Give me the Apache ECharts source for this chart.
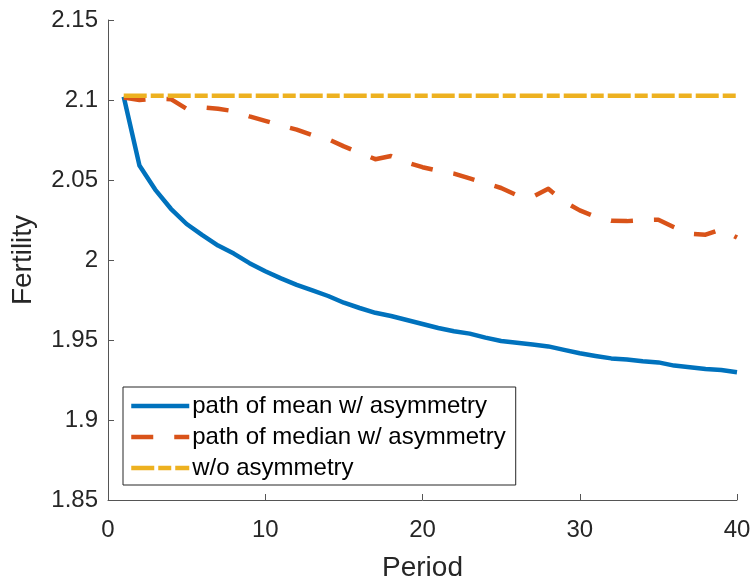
<!DOCTYPE html>
<html>
<head>
<meta charset="utf-8">
<script src="https://cdn.jsdelivr.net/npm/echarts@6/dist/echarts.min.js"></script>
<style>
  html, body { margin: 0; padding: 0; background: #fff; }
  #chart { width: 754px; height: 581px; }
</style>
</head>
<body>
<div id="chart"></div>
<script>
// periods on the x axis
var periods = [1, 2, 3, 4, 5, 6, 7, 8, 9, 10,
  11, 12, 13, 14, 15, 16, 17, 18, 19, 20,
  21, 22, 23, 24, 25, 26, 27, 28, 29, 30,
  31, 32, 33, 34, 35, 36, 37, 38, 39, 40];

// path of mean w/ asymmetry
var meanPath = [2.102, 2.059, 2.044, 2.032, 2.0225, 2.0155, 2.009, 2.004, 1.998, 1.993,
  1.9885, 1.9845, 1.981, 1.9775, 1.9733, 1.970, 1.967, 1.965, 1.9625, 1.960,
  1.9575, 1.9555, 1.954, 1.9515, 1.9494, 1.9483, 1.9472, 1.946, 1.9438, 1.9417,
  1.940, 1.9385, 1.9378, 1.9367, 1.936, 1.934, 1.933, 1.9319, 1.9312, 1.9298];

// path of median w/ asymmetry
var medianPath = [2.1015, 2.1, 2.1008, 2.1005, 2.0945, 2.0955, 2.0945, 2.093, 2.0898, 2.087,
  2.084, 2.0815, 2.078, 2.0755, 2.071, 2.067, 2.063, 2.065, 2.061, 2.058,
  2.0558, 2.054, 2.051, 2.048, 2.045, 2.0405, 2.0395, 2.0445, 2.0365, 2.031,
  2.027, 2.0245, 2.0243, 2.025, 2.0252, 2.0205, 2.0165, 2.0158, 2.0192, 2.014];

// w/o asymmetry
var noAsym = [2.1027, 2.1027, 2.1027, 2.1027, 2.1027, 2.1027, 2.1027, 2.1027, 2.1027, 2.1027,
  2.1027, 2.1027, 2.1027, 2.1027, 2.1027, 2.1027, 2.1027, 2.1027, 2.1027, 2.1027,
  2.1027, 2.1027, 2.1027, 2.1027, 2.1027, 2.1027, 2.1027, 2.1027, 2.1027, 2.1027,
  2.1027, 2.1027, 2.1027, 2.1027, 2.1027, 2.1027, 2.1027, 2.1027, 2.1027, 2.1027];

var seriesNames = ['path of mean w/ asymmetry', 'path of median w/ asymmetry', 'w/o asymmetry'];

function pairs(vals) {
  return periods.map(function (p, i) { return [p, vals[i]]; });
}

var FONT = '"Liberation Sans", Arial, sans-serif';
var TXT = '#262626';

var chart = echarts.init(document.getElementById('chart'));

var option = {
  animation: false,
  backgroundColor: '#fff',
  textStyle: { fontFamily: FONT },
  grid: { left: 108, right: 17, top: 20, bottom: 81, containLabel: false, outerBoundsMode: 'none' },
  legend: {
    orient: 'vertical',
    left: 123,
    top: 387,
    padding: [7, 10, 5, 6],
    itemGap: 7,
    itemWidth: 58,
    itemHeight: 14,
    borderColor: '#262626',
    borderWidth: 1,
    backgroundColor: '#fff',
    itemStyle: { opacity: 0, borderWidth: 0 },
    lineStyle: { width: 4.5 },
    textStyle: { fontSize: 24, color: '#000', fontFamily: FONT, lineHeight: 24, padding: [0, 0, 0, -2] },
    data: seriesNames
  },
  xAxis: {
    type: 'value',
    min: 0,
    max: 40,
    interval: 10,
    name: 'Period',
    nameLocation: 'middle',
    nameGap: 54,
    nameTextStyle: { fontSize: 28, color: TXT, fontFamily: FONT },
    axisLine: { lineStyle: { color: '#555', width: 1 } },
    axisTick: { inside: true, length: 6, lineStyle: { color: '#555' } },
    axisLabel: { fontSize: 24, color: TXT, margin: 18, fontFamily: FONT },
    splitLine: { show: false }
  },
  yAxis: {
    type: 'value',
    min: 1.85,
    max: 2.15,
    interval: 0.05,
    name: 'Fertility',
    nameLocation: 'middle',
    nameRotate: 90,
    nameGap: 71,
    nameTextStyle: { fontSize: 28, color: TXT, fontFamily: FONT },
    axisLine: { show: true, lineStyle: { color: '#555', width: 1 } },
    axisTick: { show: true, inside: true, length: 6, lineStyle: { color: '#555' } },
    axisLabel: {
      fontSize: 24, color: TXT, margin: 10, fontFamily: FONT,
      formatter: function (v) { return String(parseFloat(v.toFixed(2))); }
    },
    splitLine: { show: false }
  },
  series: [
    {
      name: seriesNames[0],
      type: 'line',
      data: pairs(meanPath),
      symbol: 'none',
      color: '#0072BD',
      lineStyle: { width: 4.5, type: 'solid', join: 'round' }
    },
    {
      name: seriesNames[1],
      type: 'line',
      data: pairs(medianPath),
      symbol: 'none',
      color: '#D95319',
      lineStyle: { width: 4.5, type: [22, 21], join: 'round' }
    },
    {
      name: seriesNames[2],
      type: 'line',
      data: pairs(noAsym),
      symbol: 'none',
      color: '#EDB120',
      lineStyle: { width: 4.5, type: [23, 4, 13, 4] }
    }
  ]
};

chart.setOption(option);
</script>
</body>
</html>
